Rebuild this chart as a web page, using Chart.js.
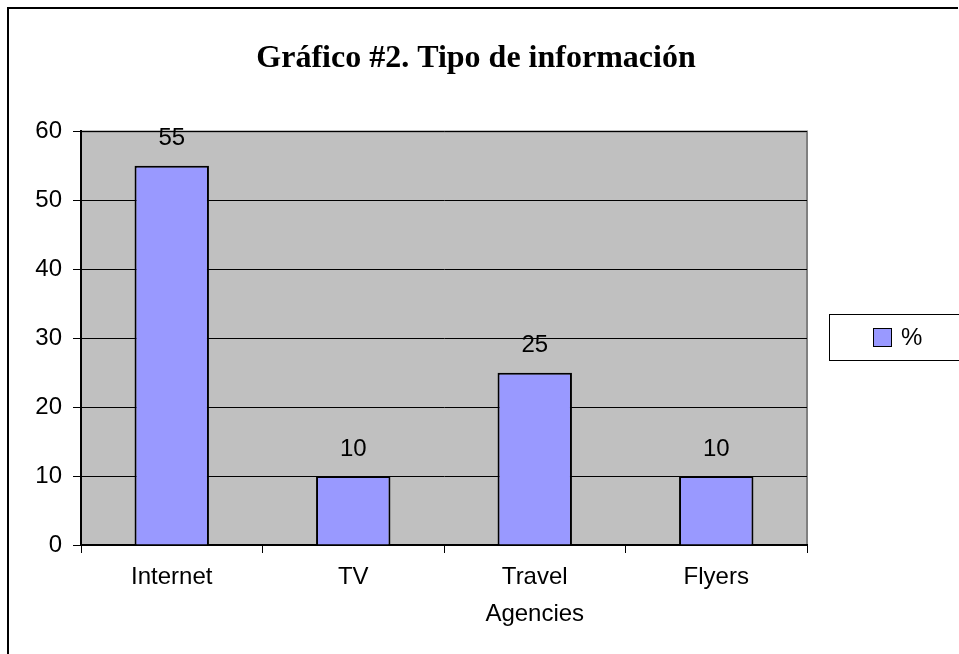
<!DOCTYPE html>
<html>
<head>
<meta charset="utf-8">
<title>Gráfico #2. Tipo de información</title>
<script src="https://cdn.jsdelivr.net/npm/chart.js@4.4.1/dist/chart.umd.min.js"></script>
<style>
  html, body { margin: 0; padding: 0; background: #fff; }
  canvas { display: block; }
</style>
</head>
<body>
<canvas id="myChart" width="959" height="654"></canvas>
<script>
// chart data
const categories = [["Internet"], ["TV"], ["Travel", "Agencies"], ["Flyers"]];
const percentValues = [55, 10, 25, 10];
const seriesLabel = "%";
const chartTitle = "Gráfico #2. Tipo de información";
const yTicks = [0, 10, 20, 30, 40, 50, 60];

const sansFont = "'Liberation Sans', Arial, sans-serif";

// frame, plot background, value labels and the boxed legend
const excelStyle = {
  id: "excelStyle",
  beforeDraw(chart) {
    const { ctx, chartArea: a } = chart;
    ctx.save();
    ctx.fillStyle = "#c0c0c0";
    ctx.fillRect(a.left, a.top, a.right - a.left, a.bottom - a.top);
    ctx.strokeStyle = "#808080";
    ctx.lineWidth = 2;
    ctx.beginPath();
    ctx.moveTo(a.left, a.top);
    ctx.lineTo(a.right, a.top);
    ctx.lineTo(a.right, a.bottom);
    ctx.stroke();
    ctx.restore();
  },
  afterDraw(chart) {
    const { ctx } = chart;
    ctx.save();
    // outer chart border (left and top only visible)
    ctx.strokeStyle = "#000";
    ctx.lineWidth = 2;
    ctx.beginPath();
    ctx.moveTo(8, 660);
    ctx.lineTo(8, 8);
    ctx.lineTo(958, 8);
    ctx.stroke();

    // value labels
    ctx.fillStyle = "#000";
    ctx.font = "24px " + sansFont;
    ctx.textAlign = "center";
    ctx.textBaseline = "middle";
    const meta = chart.getDatasetMeta(0);
    meta.data.forEach((bar, i) => {
      ctx.fillText(String(percentValues[i]), bar.x, bar.y - 27);
    });

    // legend
    ctx.strokeStyle = "#000";
    ctx.lineWidth = 1;
    ctx.fillStyle = "#fff";
    ctx.fillRect(829.5, 314.5, 140, 46);
    ctx.strokeRect(829.5, 314.5, 140, 46);
    const ds = chart.data.datasets[0];
    ctx.fillStyle = ds.backgroundColor;
    ctx.fillRect(873.5, 328.5, 18, 18);
    ctx.strokeRect(873.5, 328.5, 18, 18);
    ctx.fillStyle = "#000";
    ctx.textAlign = "left";
    ctx.fillText(ds.label, 901, 338);
    ctx.restore();
  }
};

const ctx = document.getElementById("myChart").getContext("2d");

new Chart(ctx, {
  type: "bar",
  data: {
    labels: categories,
    datasets: [
      {
        label: seriesLabel,
        data: percentValues,
        backgroundColor: "#9999ff",
        borderColor: "#000",
        borderWidth: 2,
        categoryPercentage: 0.82,
        barPercentage: 0.5,
      },
    ],
  },
  options: {
    responsive: false,
    animation: false,
    layout: {
      padding: { left: 0, right: 7, top: 0, bottom: 0 },
    },
    plugins: {
      legend: { display: false },
      tooltip: { enabled: false },
      title: {
        display: true,
        text: chartTitle,
        color: "#000",
        font: { family: "'Liberation Serif', 'Times New Roman', serif", size: 32, weight: "bold" },
        padding: { top: 40, bottom: 53 },
      },
    },
    scales: {
      x: {
        afterFit: (scale) => { scale.height = 109; },
        grid: {
          offset: true,
          drawOnChartArea: false,
          drawTicks: true,
          tickLength: 8,
          tickColor: "#000",
        },
        border: { color: "#000", width: 2 },
        ticks: {
          color: "#000",
          padding: 6,
          font: { family: sansFont, size: 24, lineHeight: 1.55 },
          maxRotation: 0,
        },
      },
      y: {
        min: 0,
        max: 60,
        afterFit: (scale) => { scale.width = 81; },
        afterBuildTicks: (scale) => { scale.ticks = yTicks.map((v) => ({ value: v })); },
        grid: {
          color: "#000",
          lineWidth: 1,
          tickLength: 8,
          tickColor: "#000",
        },
        border: { color: "#000", width: 2 },
        ticks: {
          color: "#000",
          padding: 11,
          font: { family: sansFont, size: 24 },
        },
      },
      // empty space on the right where the legend box sits
      yRight: {
        position: "right",
        display: true,
        afterFit: (scale) => { scale.width = 145; },
        grid: { display: false },
        border: { display: false },
        ticks: { display: false },
      },
    },
  },
  plugins: [excelStyle],
});
</script>
</body>
</html>
